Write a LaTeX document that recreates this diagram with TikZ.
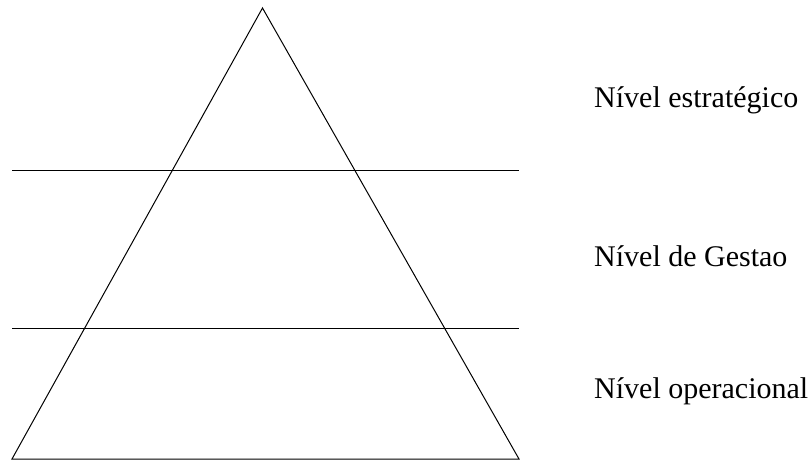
\documentclass[tikz,border=0pt]{standalone}
\usepackage{fontspec}
\setmainfont{Liberation Serif}
\usetikzlibrary{positioning}

\begin{document}
\begin{tikzpicture}[x=1pt, y=1pt, edge/.style={line width=1pt}, level/.style={anchor=base west, inner sep=0pt, font=\fontsize{30}{36}\selectfont}]
\useasboundingbox (0,0) rectangle (812,461);

\coordinate (apex) at (262.5,453);
\coordinate (baseL) at (12,2);
\coordinate (baseR) at (519,2);
\draw[edge] (baseL) -- (apex) -- (baseR) -- cycle;

\coordinate (topL) at (12,290.3);
\coordinate (topR) at (519,290.3);
\coordinate (midL) at (12,132.3);
\coordinate (midR) at (519,132.3);
\draw[edge] (topL) -- (topR);
\draw[edge] (midL) -- (midR);

\node[level] (estrat) at (594,353) {Nível estratégico};
\node[level] (gestao) at (594,194) {Nível de Gestao};
\node[level] (operac) at (594,62) {Nível operacional};

\end{tikzpicture}
\end{document}
